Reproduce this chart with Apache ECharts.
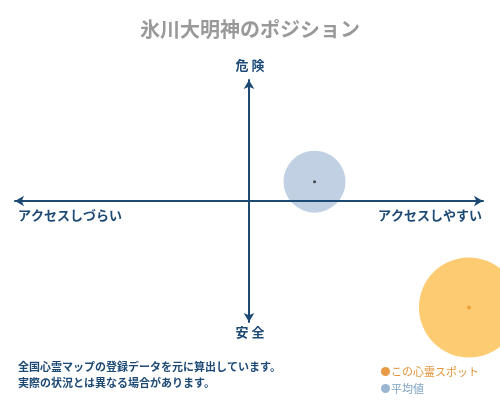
<!DOCTYPE html>
<html>
<head>
<meta charset="utf-8">
<script src="https://cdn.jsdelivr.net/npm/echarts@6/dist/echarts.min.js"></script>
<style>
  html, body { margin: 0; padding: 0; background: #fff; }
  #main { width: 500px; height: 400px; }
</style>
</head>
<body>
<div id="main"></div>
<script>
// ポジションマップ（アクセス × 危険度）
var seriesNames = ['この心霊スポット', '平均値'];
var spotPoint = [9.4, -8.8];    // この心霊スポット
var avgPoint = [2.8, 1.6];      // 平均値
var spotSize = [100];
var avgSize = [62];
var axisLabels = ['危 険', '安 全', 'アクセスしづらい', 'アクセスしやすい'];
var notes = ['全国心霊マップの登録データを元に算出しています。', '実際の状況とは異なる場合があります。'];

var navy = '#1d4a75';
var font = '"Noto Sans CJK JP", sans-serif';

var chart = echarts.init(document.getElementById('main'));

var option = {
    animation: false,
    title: {
        text: '氷川大明神のポジション',
        left: 'center',
        top: 14,
        textStyle: {
            color: '#999',
            fontSize: 20,
            fontWeight: 'bold',
            fontFamily: font
        }
    },
    legend: {
        orient: 'vertical',
        left: 376,
        top: 361,
        itemWidth: 9,
        itemHeight: 9,
        itemGap: 6,
        icon: 'circle',
        textStyle: { fontSize: 11, fontFamily: font, padding: [0, 0, 0, -4] },
        data: [
            { name: seriesNames[0], itemStyle: { color: '#e8953a' }, textStyle: { color: '#e0953a' } },
            { name: seriesNames[1], itemStyle: { color: '#7fa3c5' }, textStyle: { color: '#7fa3c5' } }
        ]
    },
    grid: { left: 15, right: 17, top: 80, bottom: 78 },
    xAxis: {
        type: 'value', min: -10, max: 10, z: 5,
        axisLine: { onZero: true, symbol: ['arrow', 'arrow'], symbolSize: [8, 9],
            lineStyle: { color: navy, width: 2 } },
        axisTick: { show: false }, axisLabel: { show: false }, splitLine: { show: false }
    },
    yAxis: {
        type: 'value', min: -10, max: 10, z: 5,
        axisLine: { onZero: true, symbol: ['arrow', 'arrow'], symbolSize: [8, 9],
            lineStyle: { color: navy, width: 2 } },
        axisTick: { show: false }, axisLabel: { show: false }, splitLine: { show: false }
    },
    series: [
        {
            name: seriesNames[0],
            type: 'scatter',
            clip: false,
            symbolSize: spotSize[0],
            itemStyle: { color: '#fdc86a', opacity: 0.95 },
            data: [spotPoint]
        },
        {
            name: seriesNames[1],
            type: 'scatter',
            clip: false,
            symbolSize: avgSize[0],
            itemStyle: { color: '#b2c5dc' },
            data: [avgPoint]
        },
        {
            name: 'center-spot',
            type: 'scatter',
            symbolSize: 4,
            z: 6,
            itemStyle: { color: '#e89a2a' },
            data: [spotPoint]
        },
        {
            name: 'center-avg',
            type: 'scatter',
            symbolSize: 3,
            z: 6,
            itemStyle: { color: '#222' },
            data: [avgPoint]
        }
    ],
    graphic: [
        { type: 'text', left: 'center', top: 59,
          style: { text: axisLabels[0], fill: navy, font: 'bold 13px ' + font } },
        { type: 'text', left: 'center', top: 326,
          style: { text: axisLabels[1], fill: navy, font: 'bold 13px ' + font } },
        { type: 'text', left: 18, top: 209,
          style: { text: axisLabels[2], fill: navy, font: 'bold 13px ' + font } },
        { type: 'text', right: 18, top: 209,
          style: { text: axisLabels[3], fill: navy, font: 'bold 13px ' + font } },
        { type: 'text', left: 18, top: 361,
          style: { text: notes[0], fill: navy, font: 'bold 11px ' + font } },
        { type: 'text', left: 18, top: 377,
          style: { text: notes[1], fill: navy, font: 'bold 11px ' + font } }
    ]
};

chart.setOption(option);
</script>
</body>
</html>
